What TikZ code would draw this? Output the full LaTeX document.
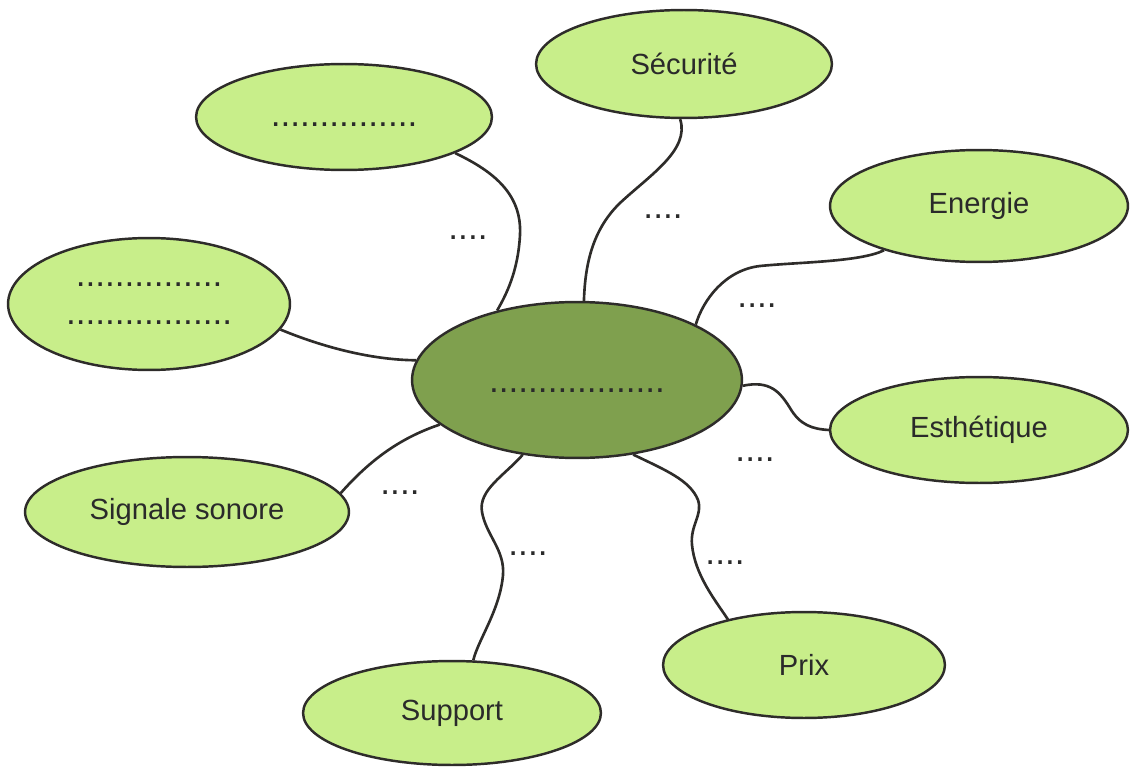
\documentclass[tikz,border=0pt]{standalone}
\usepackage{fontspec}
\setmainfont{Liberation Sans}
\usetikzlibrary{shapes.geometric}
\definecolor{bulleclair}{HTML}{C8EE8A}
\definecolor{bullefonce}{HTML}{7FA04E}
\definecolor{trait}{HTML}{2E2C2A}
\definecolor{texte}{HTML}{2A2A2A}
\newcommand{\pointille}{\fontsize{20}{21.5}\selectfont}

\tikzset{
  bulle/.style={ellipse, draw=trait, line width=1.4pt, fill=bulleclair,
    inner sep=0pt, text=texte, font=\fontsize{16.6}{19}\selectfont},
  centre/.style={bulle, fill=bullefonce},
  taille/.style 2 args={minimum width=#1*0.04cm, minimum height=#2*0.04cm},
  lien/.style={draw=trait, line width=1.5pt},
  points/.style={font=\pointille, text=texte, inner sep=0pt}
}

\begin{document}
\begin{tikzpicture}[x=0.02cm,y=-0.02cm]
\useasboundingbox (0,0) rectangle (1133,767);

% les bulles
\node[centre, taille={165}{78}, text height=0.48cm] (hub) at (577,380) {\pointille ..................};
\node[bulle, taille={148}{54}] (securite) at (684,64) {Sécurité};
\node[bulle, taille={148}{53}, text height=0.4cm] (hautgauche) at (344,117) {\pointille ...............};
\node[bulle, taille={149}{56}] (energie) at (979,206) {Energie};
\node[bulle, taille={141}{66}, align=center, font=\pointille] (gauche) at (149,304) {...............\\.................};
\node[bulle, taille={149}{53}] (esthetique) at (979,430) {Esthétique};
\node[bulle, taille={162}{55}] (sonore) at (187,512) {Signale sonore};
\node[bulle, taille={149}{52}] (support) at (452,713) {Support};
\node[bulle, taille={141}{53}] (prix) at (804,665) {Prix};

% les liens
\draw[lien] (hautgauche.342) .. controls (495,172) and (522,195) .. (520,235)
  .. controls (518,272) and (506,295) .. (hub.139);
\draw[lien] (securite.266) .. controls (690,150) and (650,175) .. (620,203)
  .. controls (590,232) and (585,270) .. (hub.85.5);
\draw[lien] (energie.205) .. controls (860,262) and (800,262) .. (760,266)
  .. controls (725,270) and (703,300) .. (hub.25);
\draw[lien] (hub.358) .. controls (770,380) and (780,392) .. (790,408)
  .. controls (800,425) and (812,429) .. (esthetique.180);
\draw[lien] (gauche.349) .. controls (320,346) and (370,360) .. (hub.173.6);
\draw[lien] (sonore.7) .. controls (370,460) and (400,438) .. (hub.198);
\draw[lien] (hub.234) .. controls (505,475) and (478,490) .. (482,512)
  .. controls (486,535) and (505,550) .. (503,575)
  .. controls (500,610) and (478,640) .. (support.68.4);
\draw[lien] (hub.307.5) .. controls (665,470) and (690,480) .. (698,500)
  .. controls (703,515) and (690,525) .. (692,545)
  .. controls (695,575) and (715,600) .. (prix.149);

% les pointilles sur les liens
\foreach \nom/\pos in {p1/{(468,238)}, p2/{(663,217)}, p3/{(757,306)}, p4/{(755,460)},
                       p5/{(725,563)}, p6/{(400,493)}, p7/{(528,554)}}
  \node[points] (\nom) at \pos {....};
\end{tikzpicture}
\end{document}
